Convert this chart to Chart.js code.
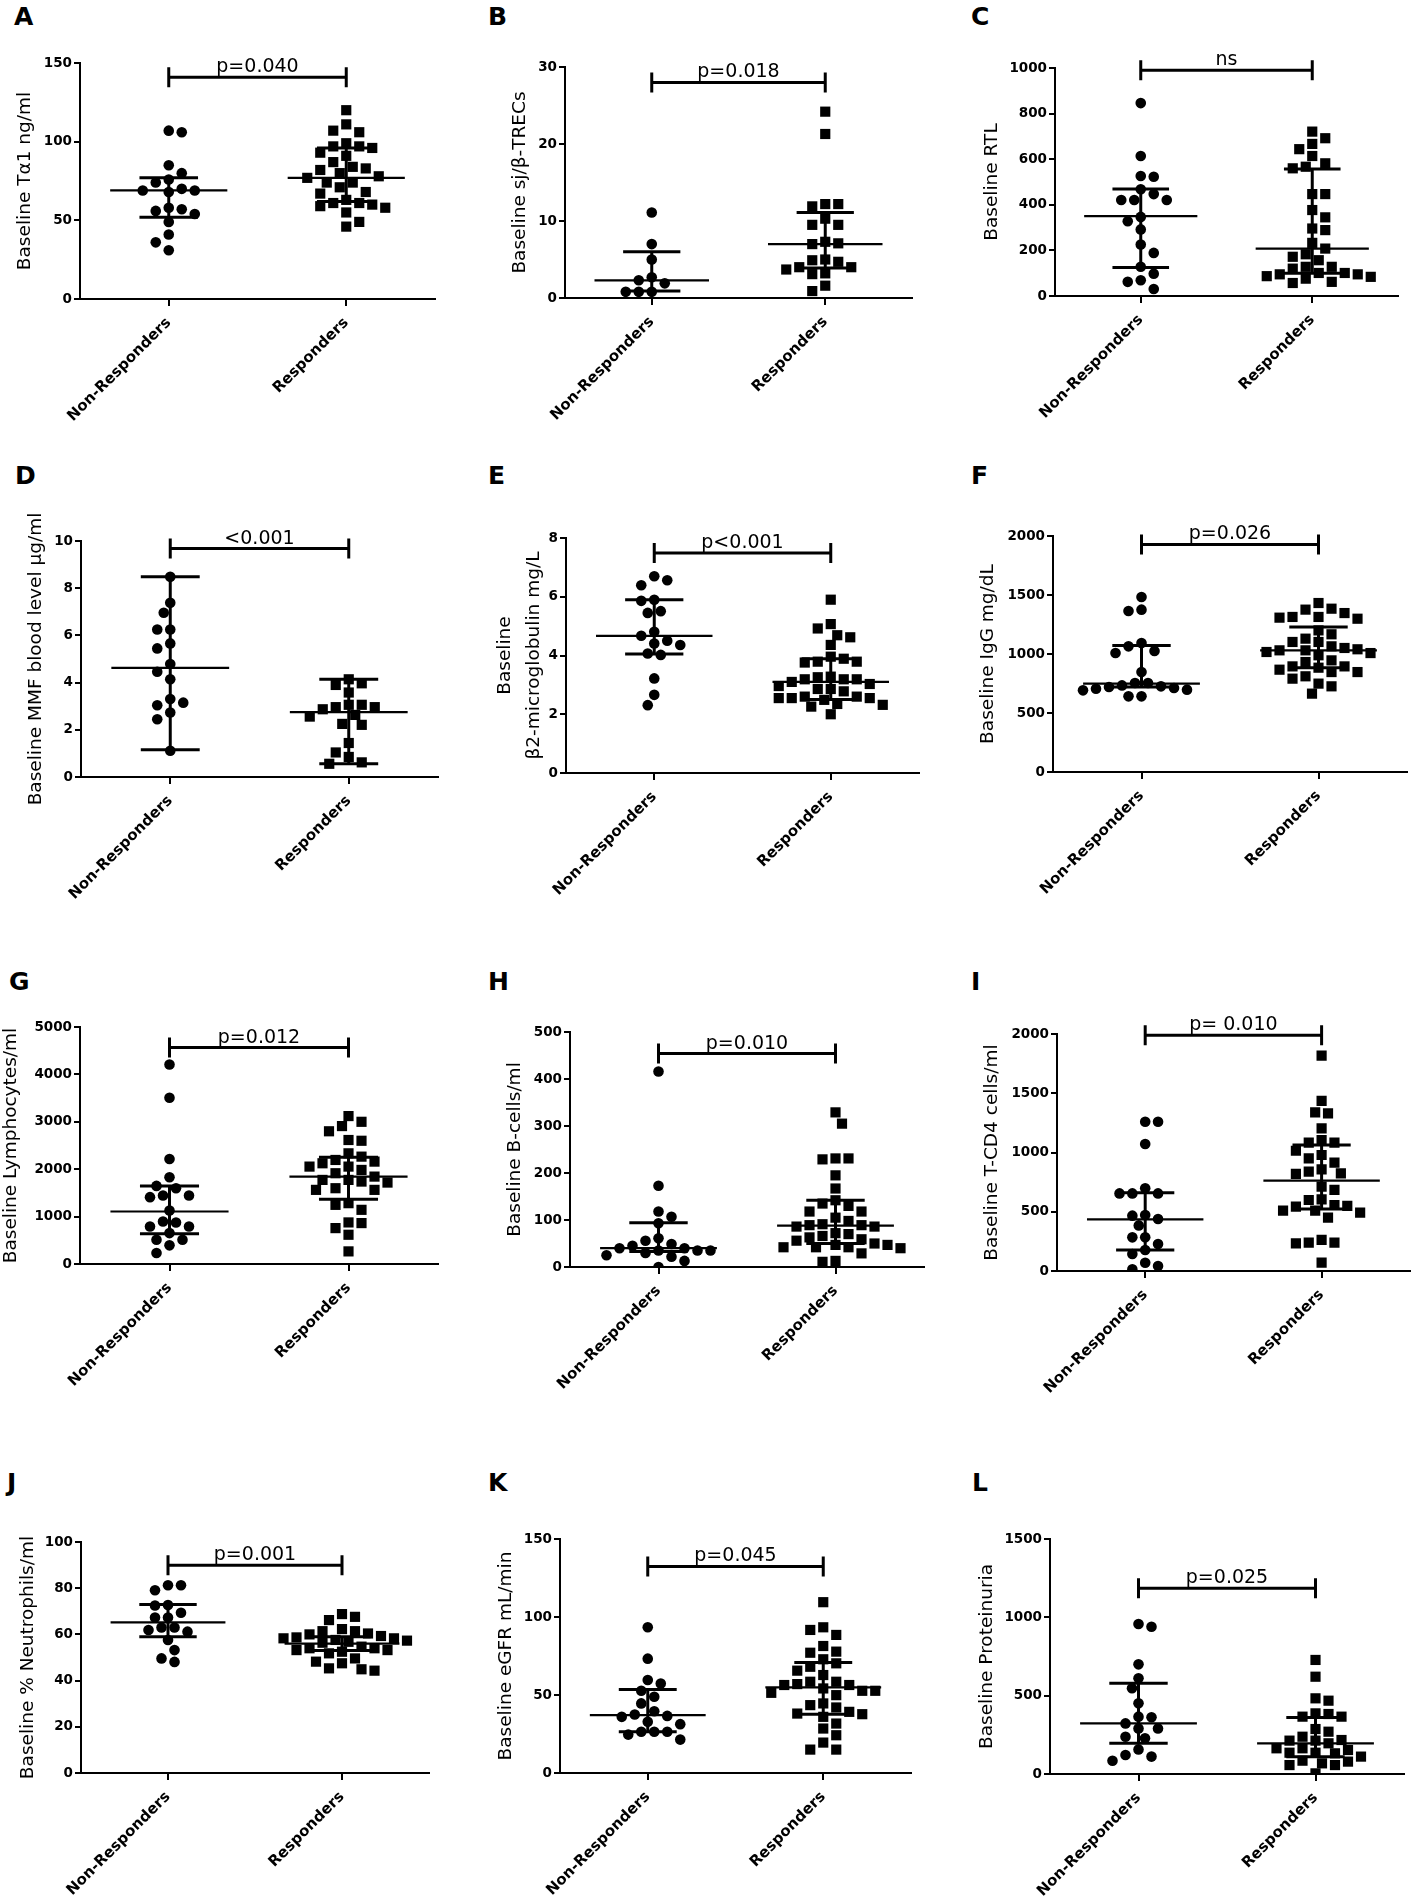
<!DOCTYPE html>
<html>
<head>
<meta charset="utf-8">
<script src="https://cdn.jsdelivr.net/npm/chart.js@4.4.0/dist/chart.umd.min.js"></script>
<style>
  body { margin: 0; background: #fff; }
  #fig { position: relative; width: 1417px; height: 1896px; }
  .panel { position: absolute; }
  .letter { position: absolute; font: bold 25px "DejaVu Sans"; line-height: 25px; color: #000; }
</style>
</head>
<body>
<div id="fig"></div>
<script>
const groups = ["Non-Responders", "Responders"];
const letters = ["A", "B", "C", "D", "E", "F", "G", "H", "I", "J", "K", "L"];
const yTitles = [
  "Baseline Tα1 ng/ml",
  "Baseline sj/β-TRECs",
  "Baseline RTL",
  "Baseline MMF blood level μg/ml",
  ["Baseline", "β2-microglobulin mg/L"],
  "Baseline IgG mg/dL",
  "Baseline Lymphocytes/ml",
  "Baseline B-cells/ml",
  "Baseline T-CD4 cells/ml",
  "Baseline % Neutrophils/ml",
  "Baseline eGFR mL/min",
  "Baseline Proteinuria",
];
const yMax = [150, 30, 1000, 10, 8, 2000, 5000, 500, 2000, 100, 150, 1500];
const yStep = [50, 10, 200, 2, 2, 500, 1000, 100, 500, 20, 50, 500];
const pTexts = ["p=0.040", "p=0.018", "ns", "<0.001", "p<0.001", "p=0.026",
  "p=0.012", "p=0.010", "p= 0.010", "p=0.001", "p=0.045", "p=0.025"];
const bracketAt = [141, 28, 990, 9.68, 7.49, 1929, 4565, 454, 1990, 89.9, 132.4, 1185];

// A - thymosin alpha 1
const talphaNon = [107, 106, 85, 80, 76, 74, 70, 69, 68, 69, 57, 58, 56, 54, 49, 41, 36, 31];
const talphaResp = [120, 111, 106, 107, 99, 97, 97, 96, 93, 91, 87, 84, 83, 82, 80, 78, 77, 74, 74, 71,
  67, 68, 63, 61, 61, 59, 58, 60, 55, 49, 46];
// B - TRECs
const trecNon = [11.1, 7.0, 5.0, 2.3, 2.7, 1.9, 0.8, 0.8, 0.8];
const trecResp = [24.2, 21.3, 12.2, 11.9, 12.2, 10.3, 9.5, 9.5, 7.1, 7.0, 7.3, 4.7, 4.9, 5.0, 4.0,
  3.7, 4.0, 3.2, 3.1, 1.6, 0.9];
// C - RTL
const rtlNon = [846, 614, 526, 523, 468, 447, 421, 421, 421, 347, 328, 292, 226, 189, 128, 98, 69, 62, 31];
const rtlResp = [721, 692, 667, 644, 614, 582, 560, 567, 447, 447, 377, 345, 296, 289, 233, 208, 183,
  172, 157, 128, 120, 128, 101, 95, 87, 76, 57, 62, 84, 95, 101];
// D - MMF
const mmfNon = [8.48, 7.38, 6.96, 6.25, 6.25, 5.66, 5.45, 4.79, 4.46, 4.14, 3.15, 3.3, 3.04, 2.73, 2.45, 1.11];
const mmfResp = [4.14, 3.97, 3.9, 3.58, 3.06, 2.96, 2.87, 2.96, 3.06, 2.56, 2.63, 2.21, 2.25, 1.44,
  0.85, 1.04, 0.56, 0.62];
// E - beta2 microglobulin
const b2mNon = [6.56, 6.39, 6.7, 5.86, 5.9, 5.45, 5.51, 4.81, 4.67, 4.5, 4.36, 4.41, 4.02, 4.07, 3.22, 2.66, 2.31];
const b2mResp = [5.9, 5.07, 4.92, 4.69, 4.62, 4.36, 3.96, 3.89, 3.79, 3.76, 3.79, 3.26, 3.19, 3.19,
  3.19, 3.28, 2.96, 3.03, 3.1, 2.86, 2.78, 2.86, 2.6, 2.55, 2.55, 2.55, 2.6, 2.32, 2.49, 2.26, 2.35, 2.0];
// F - IgG
const iggNon = [1483, 1376, 1364, 1065, 1093, 1008, 1025, 847, 754, 754, 720, 706, 692, 734, 698, 712, 726, 641, 641];
const iggResp = [1432, 1376, 1347, 1384, 1314, 1308, 1299, 1314, 1200, 1167, 1130, 1102, 1102, 1065,
  1051, 1031, 1017, 1008, 1031, 1040, 989, 932, 946, 895, 884, 847, 811, 847, 867, 895, 749, 791, 726, 664];
// G - lymphocytes
const lymNon = [4208, 3506, 2216, 1830, 1599, 1648, 1445, 1410, 1445, 1129, 792, 792, 877, 898, 652,
  512, 512, 393, 231];
const lymResp = [3121, 2910, 3000, 2800, 2600, 2616, 2160, 2125, 2195, 2265, 2055, 2335, 1985, 1774,
  1718, 1915, 1599, 2055, 1844, 1564, 1774, 1564, 1739, 1283, 1143, 1248, 757, 863, 617, 877, 266];
// H - B cells
const bcNon = [416, 173, 118, 107, 93, 61, 56, 49, 45, 40, 35, 30, 35, 35, 40, 22, 25, 13, 0];
const bcResp = [329, 305, 231, 229, 231, 195, 167, 135, 142, 118, 118, 130, 98, 89, 86, 89, 86, 91,
  105, 72, 70, 66, 59, 63, 47, 50, 47, 56, 42, 40, 42, 42, 29, 11, 13];
// I - T-CD4
const cd4Non = [1260, 1260, 1072, 655, 655, 655, 698, 467, 439, 473, 385, 284, 284, 228, 177, 143, 70, 42, 14];
const cd4Resp = [1817, 1435, 1330, 1339, 1204, 1105, 1083, 1083, 1015, 979, 951, 914, 858, 838, 824,
  819, 712, 684, 605, 599, 557, 543, 549, 509, 492, 509, 450, 262, 239, 233, 239, 70];
// J - neutrophils
const neuNon = [81.3, 81.3, 79.1, 72.7, 72.5, 69.4, 67.3, 67.3, 63, 63, 61.2, 61.9, 57.6, 53.2, 49.6, 48.1];
const neuResp = [68.8, 67.6, 66.2, 62.3, 61.4, 60, 60.4, 61.4, 58.7, 58.3, 58.3, 59.3, 57.6, 56.8,
  56.4, 57.3, 54.7, 54, 53.2, 52.5, 53.2, 54, 51.8, 48.2, 49.6, 45.3, 47.5, 44.3, 44.9];
// K - eGFR
const gfrNon = [93.4, 73.3, 59.6, 57.4, 52.7, 48.9, 44.6, 39.6, 37.5, 36.6, 36, 32.8, 31.3, 26.4,
  26.4, 24.6, 26.4, 21.4];
const gfrResp = [109.5, 93.4, 91.7, 88.5, 81.4, 77.1, 77.8, 72.9, 70.3, 68.1, 65.6, 62.8, 58.5, 57,
  56.4, 56.4, 58.5, 52.7, 51.4, 49.9, 52.7, 54.2, 44.6, 43.5, 42, 37.7, 39.2, 38.1, 36, 31.7, 28.5,
  24.2, 19.5, 15, 15];
// L - proteinuria
const protNon = [940, 957, 700, 611, 547, 451, 366, 362, 323, 291, 291, 238, 228, 157, 121, 111, 85];
const protResp = [728, 621, 483, 468, 366, 383, 387, 366, 287, 238, 270, 213, 196, 213, 217, 153,
  136, 164, 164, 132, 136, 79, 57, 111, 57, 68, 85, 4];

// [median, q1, q3] for [non-responders, responders]
const talphaStats = [[69, 52, 77], [77, 62, 96]];
const trecStats = [[2.3, 0.9, 6.0], [7.0, 3.9, 11.1]];
const rtlStats = [[350, 125, 469], [208, 100, 557]];
const mmfStats = [[4.62, 1.15, 8.48], [2.75, 0.56, 4.14]];
const b2mStats = [[4.67, 4.05, 5.9], [3.1, 2.5, 3.89]];
const iggStats = [[749, 720, 1073], [1031, 884, 1229]];
const lymStats = [[1108, 638, 1648], [1844, 1367, 2251]];
const bcStats = [[40, 33, 94], [88, 50, 142]];
const cd4Stats = [[436, 177, 661], [762, 523, 1063]];
const neuStats = [[65.2, 59, 72.9], [56, 53, 59]];
const gfrStats = [[37.1, 26.4, 53.6], [54.9, 37.7, 70.9]];
const protStats = [[323, 196, 579], [196, 110, 360]];

const panelValues = [
  [talphaNon, talphaResp], [trecNon, trecResp], [rtlNon, rtlResp],
  [mmfNon, mmfResp], [b2mNon, b2mResp], [iggNon, iggResp],
  [lymNon, lymResp], [bcNon, bcResp], [cd4Non, cd4Resp],
  [neuNon, neuResp], [gfrNon, gfrResp], [protNon, protResp],
];
const panelStats = [talphaStats, trecStats, rtlStats, mmfStats, b2mStats, iggStats,
  lymStats, bcStats, cd4Stats, neuStats, gfrStats, protStats];

// page layout (px): canvas box, plot box, title centre, letter position
const colLeft = [0, 472, 944];
const colWidth = [472, 472, 473];
const rowTop = [0, 470, 960, 1440];
const rowHeight = [440, 450, 450, 456];
const plotBox = [
  // axisX, top, bottom, right, titleX, letterX, letterY
  [80, 63, 299, 435, 25, 15, 7],
  [565, 67, 298, 912, 520, 489, 7],
  [1055, 68, 296, 1398, 992, 972, 7],
  [81, 541, 777, 438, 36, 16, 466],
  [566, 538, 773, 919, 505, 489, 466],
  [1053, 536, 772, 1407, 988, 972, 466],
  [80, 1027, 1264, 438, 11, 10, 972],
  [570, 1032, 1267, 924, 515, 489, 972],
  [1057, 1034, 1271, 1414, 992, 972, 972],
  [81, 1542, 1773, 429, 28, 8, 1473],
  [560, 1539, 1773, 911, 506, 489, 1473],
  [1050, 1539, 1774, 1404, 987, 973, 1473],
];

Chart.defaults.font.family = "DejaVu Sans";
Chart.defaults.color = "#000";

// simple beeswarm so overlapping dots spread sideways like the original
function swarm(vals, pxPerX, pxPerY) {
  const placed = [];
  const out = new Array(vals.length);
  const order = vals.map((v, k) => k).sort((a, b) => vals[b] - vals[a]);
  const minD = 11.5, half = 6.5;
  order.forEach((k, idx) => {
    const py = vals[k] * pxPerY;
    for (let n = 0; n < 40; n++) {
      const cands = n === 0 ? [0] : (idx % 2 ? [n * half, -n * half] : [-n * half, n * half]);
      const ok = cands.find(c => placed.every(p => Math.hypot(p.x - c, p.y - py) >= minD));
      if (ok !== undefined) {
        placed.push({ x: ok, y: py });
        out[k] = ok / pxPerX;
        break;
      }
    }
  });
  return out;
}

function seg(pts, w) {
  return {
    type: "line",
    data: pts.map(([x, y]) => ({ x, y })),
    borderColor: "#000",
    borderWidth: w,
    pointRadius: 0,
    fill: false,
    tension: 0,
  };
}

const bracketPlugin = {
  id: "bracket",
  afterDatasetsDraw(chart, args, opts) {
    const { ctx, scales: { x, y } } = chart;
    const x0 = x.getPixelForValue(0), x1 = x.getPixelForValue(1);
    const yy = y.getPixelForValue(opts.level);
    ctx.save();
    ctx.strokeStyle = "#000";
    ctx.lineWidth = 3;
    ctx.beginPath();
    ctx.moveTo(x0, yy); ctx.lineTo(x1, yy);
    ctx.moveTo(x0, yy - 10); ctx.lineTo(x0, yy + 10);
    ctx.moveTo(x1, yy - 10); ctx.lineTo(x1, yy + 10);
    ctx.stroke();
    ctx.fillStyle = "#000";
    ctx.font = '19px "DejaVu Sans"';
    ctx.textAlign = "center";
    ctx.textBaseline = "alphabetic";
    ctx.fillText(opts.text, (x0 + x1) / 2, yy - 5);
    ctx.restore();
  },
};

const fig = document.getElementById("fig");

letters.forEach((letter, i) => {
  const col = i % 3, row = Math.floor(i / 3);
  const [axisX, pTop, pBottom, pRight, titleX, letX, letY] = plotBox[i];
  const left = colLeft[col], top = rowTop[row], w = colWidth[col], h = rowHeight[row];

  const lab = document.createElement("div");
  lab.className = "letter";
  lab.style.left = (letX - 1) + "px";
  lab.style.top = (letY - 3) + "px";
  lab.textContent = letter;
  fig.appendChild(lab);

  const box = document.createElement("div");
  box.className = "panel";
  box.style.left = left + "px";
  box.style.top = top + "px";
  const canvas = document.createElement("canvas");
  canvas.width = w;
  canvas.height = h;
  box.appendChild(canvas);
  fig.appendChild(box);

  const lh = Array.isArray(yTitles[i]) ? 1.6 : 1.2;
  const padLeft = titleX - left - (18.5 * lh) / 2;
  const pxPerX = (pRight - axisX) / 2;
  const pxPerY = (pBottom - pTop) / yMax[i];

  const datasets = [];
  [0, 1].forEach(g => {
    const vals = panelValues[i][g];
    const dx = swarm(vals, pxPerX, pxPerY);
    datasets.push({
      type: "scatter",
      data: vals.map((v, k) => ({ x: g + dx[k], y: v })),
      pointStyle: g ? "rect" : "circle",
      pointRadius: g ? 7.2 : 5.3,
      backgroundColor: "#000",
      borderColor: "#000",
      borderWidth: 0,
    });
    const [med, q1, q3] = panelStats[i][g];
    datasets.push(seg([[g - 0.33, med], [g + 0.33, med]], 2.2));
    datasets.push(seg([[g - 0.165, q3], [g + 0.165, q3]], 3));
    datasets.push(seg([[g - 0.165, q1], [g + 0.165, q1]], 3));
    datasets.push(seg([[g, q1], [g, q3]], 3));
  });

  new Chart(canvas, {
    type: "scatter",
    data: { datasets },
    plugins: [bracketPlugin],
    options: {
      responsive: false,
      animation: false,
      events: [],
      layout: { padding: { left: padLeft, top: pTop - top, right: left + w - pRight, bottom: 0 } },
      plugins: {
        legend: { display: false },
        tooltip: { enabled: false },
        bracket: { level: bracketAt[i], text: pTexts[i] },
      },
      scales: {
        x: {
          type: "linear",
          min: -0.5,
          max: 1.5,
          afterBuildTicks: s => { s.ticks = [{ value: 0 }, { value: 1 }]; },
          afterFit: s => { s.height = top + h - pBottom; },
          ticks: {
            callback: v => groups[v],
            minRotation: 45,
            maxRotation: 45,
            autoSkip: false,
            padding: 8,
            color: "#000",
            font: { size: 15, weight: "bold" },
          },
          grid: { drawOnChartArea: false, tickLength: 7, color: "#000", lineWidth: 2 },
          border: { display: true, color: "#000", width: 2 },
        },
        y: {
          type: "linear",
          min: 0,
          max: yMax[i],
          afterFit: s => { s.width = axisX - left - padLeft; },
          ticks: {
            stepSize: yStep[i],
            padding: 2,
            color: "#000",
            font: { size: 13.5, weight: "bold" },
            callback: v => String(v),
          },
          grid: { drawOnChartArea: false, tickLength: 6, color: "#000", lineWidth: 2 },
          border: { display: true, color: "#000", width: 2 },
          title: {
            display: true,
            text: yTitles[i],
            color: "#000",
            padding: 0,
            font: { size: 18.5, lineHeight: lh },
          },
        },
      },
    },
  });
});
</script>
</body>
</html>
